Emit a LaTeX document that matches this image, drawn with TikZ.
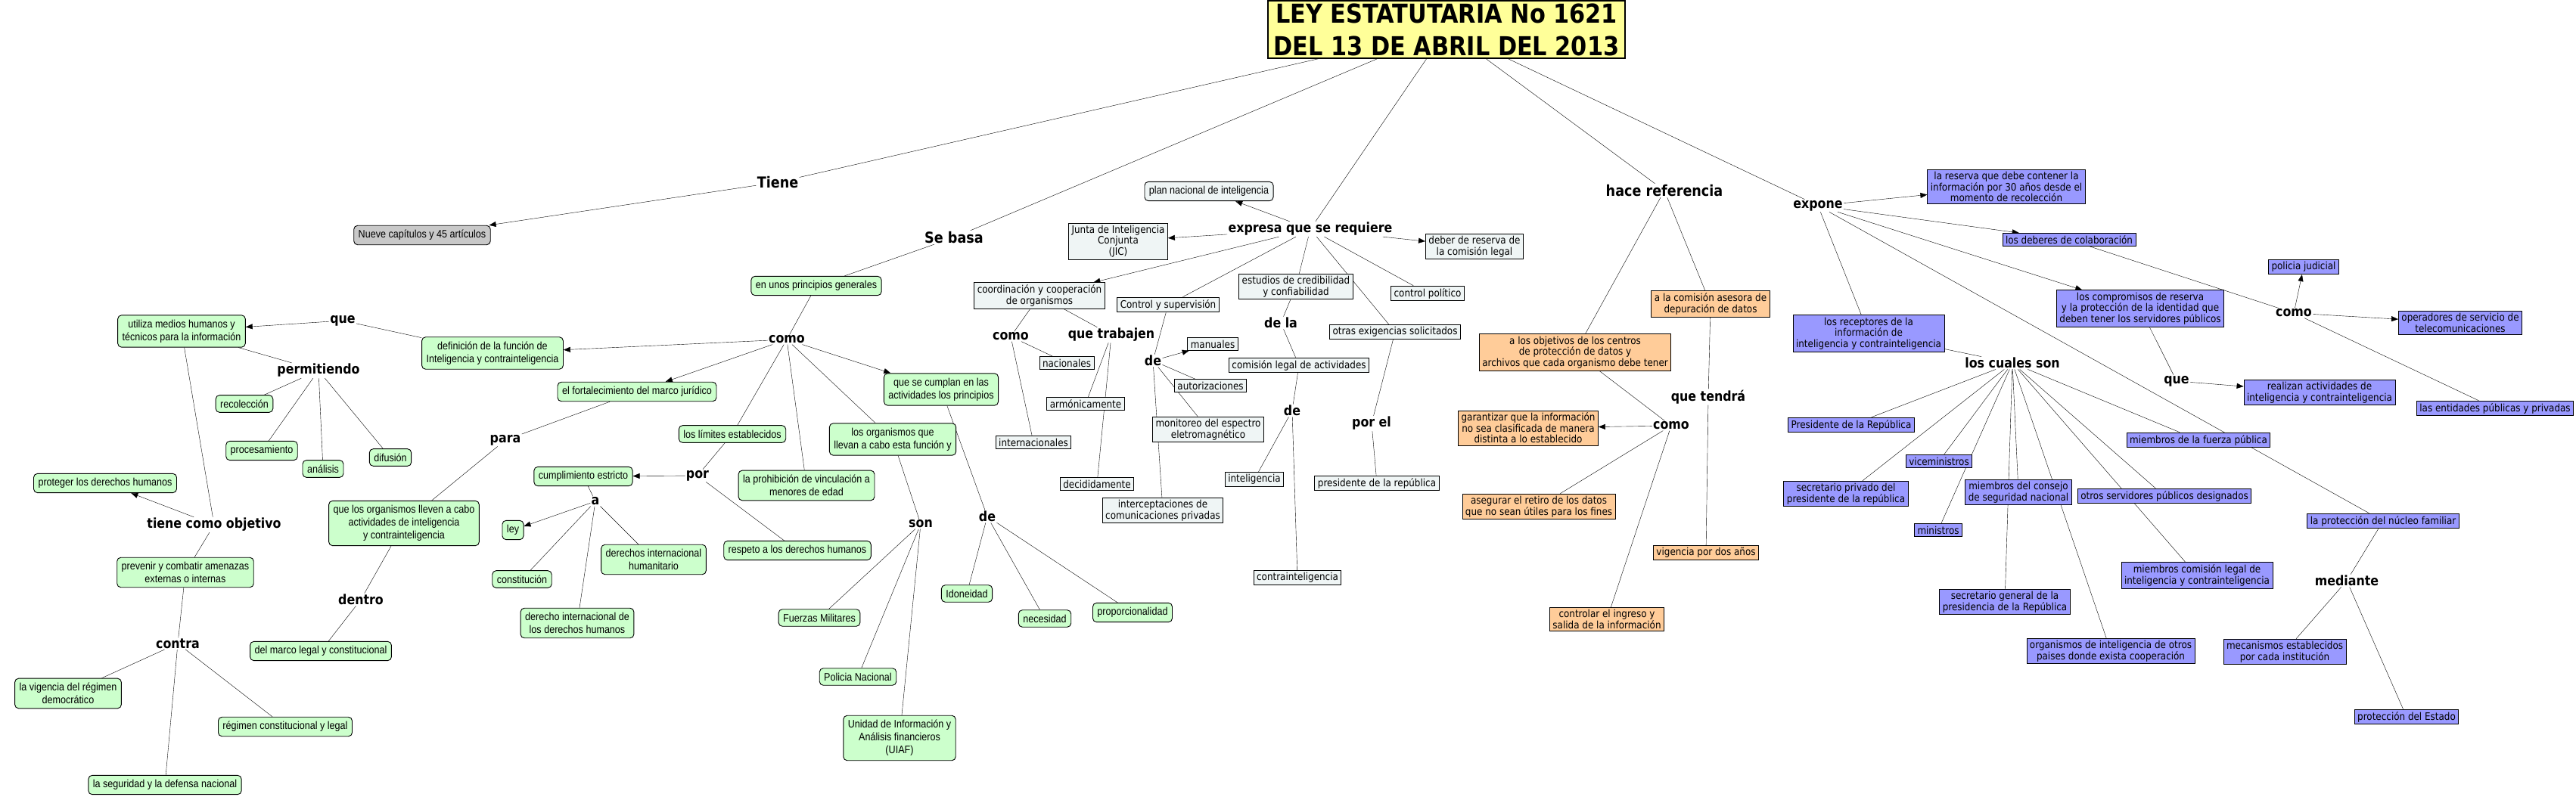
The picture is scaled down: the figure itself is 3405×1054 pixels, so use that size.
\documentclass[tikz,border=0pt]{standalone}
\usepackage{fontspec}
\setmainfont{DejaVu Sans}[FakeStretch=0.88]
\newfontfamily\narrowfont{Liberation Sans}[FakeStretch=0.88]
\usetikzlibrary{arrows.meta}
\definecolor{grnfill}{HTML}{CCFFCC}
\definecolor{gryfill}{HTML}{C8C8C8}
\definecolor{litefill}{HTML}{EFF5F5}
\definecolor{ornfill}{HTML}{FFCC99}
\definecolor{blufill}{HTML}{9999FF}
\definecolor{titlefill}{HTML}{FFFF99}
\pgfdeclarelayer{background}
\pgfsetlayers{background,main}
\newcommand{\cmconcept}{\narrowfont\fontsize{14.3}{17}\selectfont}
\newcommand{\cmbox}{\fontsize{13.6}{14.5}\selectfont}
\newcommand{\cmlink}{\fontsize{18}{20}\selectfont\bfseries}
\newcommand{\cmbiglink}{\fontsize{20}{22}\selectfont\bfseries}
\newcommand{\cmtitle}{\fontsize{34.5}{43}\selectfont\bfseries}
\tikzset{
  grn/.style={draw, rounded corners=5pt, fill=grnfill, font=\cmconcept, align=center, inner xsep=6pt, inner ysep=6pt},
  gry/.style={grn, fill=gryfill},
  literound/.style={grn, fill=litefill},
  lite/.style={draw, fill=litefill, font=\cmbox, align=center, inner xsep=4pt, inner ysep=3pt},
  orn/.style={lite, fill=ornfill},
  blu/.style={lite, fill=blufill},
  lnk/.style={font=\cmlink, inner sep=1pt},
  biglnk/.style={font=\cmbiglink, inner sep=1pt},
  arr/.style={-{Triangle[length=9pt,width=7pt]}}
}
\begin{document}
\begin{tikzpicture}[x=1pt, y=-1pt, line width=0.9pt]
\useasboundingbox (0,0) rectangle (3405,1054);
% title
\node[draw, fill=titlefill, line width=1.2pt, font=\cmtitle, align=center, minimum width=472pt, minimum height=76pt, inner sep=0pt] (ley) at (1912,39) {LEY ESTATUTARIA No 1621\\DEL 13 DE ABRIL DEL 2013};
\node[biglnk] (tiene) at (1028,241) {Tiene};
\node[biglnk] (sebasa) at (1261,314) {Se basa};
\node[lnk] (expresa) at (1732,303) {expresa que se requiere};
\node[biglnk] (haceref) at (2200,252) {hace referencia};
\node[lnk] (expone) at (2403,272) {expone};
\node[gry] (nueve) at (558,311) {Nueve capítulos y 45 artículos};

% principios generales
\node[grn] (principios) at (1079,378) {en unos principios generales};
\node[lnk] (comoA) at (1040,449) {como};
\node[grn] (definicion) at (651,467) {definición de la función de\\Inteligencia y contrainteligencia};
\node[grn] (fortalec) at (842,518) {el fortalecimiento del marco jurídico};
\node[grn] (cumplan) at (1244,515) {que se cumplan en las\\actividades los principios};
\node[grn] (limites) at (968,574) {los límites establecidos};
\node[grn] (prohibicion) at (1066,642) {la prohibición de vinculación a\\menores de edad};
\node[grn] (orgfuncion) at (1180,581) {los organismos que\\llevan a cabo esta función y};
\node[lnk] (queA) at (453,424) {que};
\node[grn] (utiliza) at (240,438) {utiliza medios humanos y\\técnicos para la información};
\node[lnk] (permitiendo) at (421,490) {permitiendo};
\node[grn] (recoleccion) at (323,534) {recolección};
\node[grn] (procesamiento) at (346,596) {procesamiento};
\node[grn] (analisis) at (427,620) {análisis};
\node[grn] (difusion) at (516,605) {difusión};
\node[lnk] (objetivo) at (283,694) {tiene como objetivo};
\node[grn] (proteger) at (139,639) {proteger los derechos humanos};
\node[grn] (prevenir) at (245,757) {prevenir y combatir amenazas\\externas o internas};
\node[lnk] (contra) at (235,851) {contra};
\node[grn] (vigencia) at (90,917) {la vigencia del régimen\\democrático};
\node[grn] (regimen) at (377,961) {régimen constitucional y legal};
\node[grn] (seguridad) at (218,1038) {la seguridad y la defensa nacional};
\node[lnk] (para) at (668,582) {para};
\node[grn] (orgllevan) at (534,692) {que los organismos lleven a cabo\\actividades de inteligencia\\y contrainteligencia};
\node[lnk] (dentro) at (477,793) {dentro};
\node[grn] (marcolegal) at (424,861) {del marco legal y constitucional};
\node[lnk] (porA) at (922,629) {por};
\node[grn] (cumplimiento) at (771,630) {cumplimiento estricto};
\node[lnk] (aA) at (787,663) {a};
\node[grn] (leyn) at (678,701) {ley};
\node[grn] (constitucion) at (690,766) {constitución};
\node[grn] (dih) at (864,740) {derechos internacional\\humanitario};
\node[grn] (didh) at (763,824) {derecho internacional de\\los derechos humanos};
\node[grn] (respeto) at (1054,728) {respeto a los derechos humanos};
\node[lnk] (son) at (1217,693) {son};
\node[grn] (fuerzas) at (1083,817) {Fuerzas Militares};
\node[grn] (policia) at (1134,895) {Policia Nacional};
\node[grn] (uiaf) at (1189,976) {Unidad de Información y\\Análisis financieros\\(UIAF)};
\node[lnk] (deA) at (1305,683) {de};
\node[grn] (idoneidad) at (1278,785) {Idoneidad};
\node[grn] (necesidad) at (1381,818) {necesidad};
\node[grn] (proporcion) at (1497,810) {proporcionalidad};

% expresa que se requiere
\node[literound] (plan) at (1598,253) {plan nacional de inteligencia};
\node[lite] (jic) at (1478,319) {Junta de Inteligencia\\Conjunta\\(JIC)};
\node[lite] (deber) at (1949,326) {deber de reserva de\\la comisión legal};
\node[lite] (coord) at (1374,391) {coordinación y cooperación\\de organismos};
\node[lnk] (comoB) at (1336,445) {como};
\node[lite] (nacionales) at (1410,480) {nacionales};
\node[lite] (internacionales) at (1366,585) {internacionales};
\node[lnk] (trabajen) at (1469,443) {que trabajen};
\node[lite] (armonica) at (1435,534) {armónicamente};
\node[lite] (decidida) at (1450,640) {decididamente};
\node[lite] (control) at (1544,403) {Control y supervisión};
\node[lnk] (deB) at (1524,477) {de};
\node[lite] (manuales) at (1603,455) {manuales};
\node[lite] (autoriz) at (1600,510) {autorizaciones};
\node[lite] (monitoreo) at (1597,568) {monitoreo del espectro\\eletromagnético};
\node[lite] (intercep) at (1537,675) {interceptaciones de\\comunicaciones privadas};
\node[lite] (estudios) at (1713,379) {estudios de credibilidad\\y confiabilidad};
\node[lnk] (dela) at (1693,427) {de la};
\node[lite] (comision) at (1717,483) {comisión legal de actividades};
\node[lnk] (deC) at (1708,543) {de};
\node[lite] (intelig) at (1658,634) {inteligencia};
\node[lite] (contraint) at (1715,764) {contrainteligencia};
\node[lite] (otras) at (1844,439) {otras exigencias solicitados};
\node[lnk] (porel) at (1813,560) {por el};
\node[lite] (presidente) at (1820,639) {presidente de la república};
\node[lite] (politico) at (1887,388) {control político};

% hace referencia
\node[orn] (objetivos) at (2082,466) {a los objetivos de los centros\\de protección de datos y\\archivos que cada organismo debe tener};
\node[orn] (asesora) at (2261,402) {a la comisión asesora de\\depuración de datos};
\node[lnk] (tendra) at (2258,525) {que tendrá};
\node[orn] (vigenciados) at (2255,731) {vigencia por dos años};
\node[lnk] (comoC) at (2209,563) {como};
\node[orn] (garantizar) at (2020,566) {garantizar que la información\\no sea clasificada de manera\\distinta a lo establecido};
\node[orn] (asegurar) at (2034,670) {asegurar el retiro de los datos\\que no sean útiles para los fines};
\node[orn] (controlar) at (2124,819) {controlar el ingreso y\\salida de la información};

% expone
\node[blu] (reserva) at (2652,247) {la reserva que debe contener la\\información por 30 años desde el\\momento de recolección};
\node[blu] (deberes) at (2735,317) {los deberes de colaboración};
\node[blu] (compromisos) at (2829,408) {los compromisos de reserva\\y la protección de la identidad que\\deben tener los servidores públicos};
\node[blu] (receptores) at (2470,441) {los receptores de la\\información de\\inteligencia y contrainteligencia};
\node[lnk] (cuales) at (2660,480) {los cuales son};
\node[lnk] (comoD) at (3032,414) {como};
\node[blu] (judicial) at (3045,353) {policia judicial};
\node[blu] (operadores) at (3252,427) {operadores de servicio de\\telecomunicaciones};
\node[blu] (entidades) at (3298,540) {las entidades públicas y privadas};
\node[lnk] (queB) at (2877,504) {que};
\node[blu] (realizan) at (3066,519) {realizan actividades de\\inteligencia y contrainteligencia};
\node[blu] (presidenteR) at (2447,562) {Presidente de la República};
\node[blu] (vice) at (2563,610) {viceministros};
\node[blu] (ministros) at (2562,701) {ministros};
\node[blu] (privado) at (2440,653) {secretario privado del\\presidente de la república};
\node[blu] (consejo) at (2668,651) {miembros del consejo\\de seguridad nacional};
\node[blu] (otrosserv) at (2861,656) {otros servidores públicos designados};
\node[blu] (fuerza) at (2906,582) {miembros de la fuerza pública};
\node[blu] (comlegal) at (2904,761) {miembros comisión legal de\\inteligencia y contrainteligencia};
\node[blu] (secgeneral) at (2650,796) {secretario general de la\\presidencia de la República};
\node[blu] (orgotros) at (2790,861) {organismos de inteligencia de otros\\paises donde exista cooperación};
\node[blu] (nucleo) at (3150,689) {la protección del núcleo familiar};
\node[lnk] (mediante) at (3102,768) {mediante};
\node[blu] (mecanismos) at (3020,862) {mecanismos establecidos\\por cada institución};
\node[blu] (estado) at (3181,948) {protección del Estado};

% connectors
\begin{pgfonlayer}{background}
\draw (ley) -- (tiene);
\draw[arr] (tiene) -- (nueve);
\draw (ley) -- (sebasa);
\draw (sebasa) -- (principios);
\draw (ley) -- (expresa);
\draw (ley) -- (haceref);
\draw (ley) -- (expone);

\draw (principios) -- (comoA);
\draw[arr] (comoA) -- (definicion);
\draw[arr] (comoA) -- (fortalec);
\draw[arr] (comoA) -- (cumplan);
\draw (comoA) -- (limites);
\draw (comoA) -- (prohibicion);
\draw (comoA) -- (orgfuncion);
\draw (definicion) -- (queA);
\draw[arr] (queA) -- (utiliza);
\draw (utiliza) -- (permitiendo);
\draw (permitiendo) -- (recoleccion);
\draw (permitiendo) -- (procesamiento);
\draw (permitiendo) -- (analisis);
\draw (permitiendo) -- (difusion);
\draw (utiliza) -- (objetivo);
\draw[arr] (objetivo) -- (proteger);
\draw (objetivo) -- (prevenir);
\draw (prevenir) -- (contra);
\draw (contra) -- (vigencia);
\draw (contra) -- (regimen);
\draw (contra) -- (seguridad);
\draw (fortalec) -- (para);
\draw (para) -- (orgllevan);
\draw (orgllevan) -- (dentro);
\draw (dentro) -- (marcolegal);
\draw (limites) -- (porA);
\draw[arr] (porA) -- (cumplimiento);
\draw (porA) -- (respeto);
\draw (cumplimiento) -- (aA);
\draw[arr] (aA) -- (leyn);
\draw (aA) -- (constitucion);
\draw (aA) -- (didh);
\draw (aA) -- (dih);
\draw (orgfuncion) -- (son);
\draw (son) -- (fuerzas);
\draw (son) -- (policia);
\draw (son) -- (uiaf);
\draw (cumplan) -- (deA);
\draw (deA) -- (idoneidad);
\draw (deA) -- (necesidad);
\draw (deA) -- (proporcion);

\draw[arr] (expresa) -- (plan);
\draw[arr] (expresa) -- (jic);
\draw[arr] (expresa) -- (deber);
\draw[arr] (expresa) -- (coord);
\draw (expresa) -- (control);
\draw (expresa) -- (estudios);
\draw (expresa) -- (otras);
\draw (expresa) -- (politico);
\draw (coord) -- (comoB);
\draw (comoB) -- (nacionales);
\draw (comoB) -- (internacionales);
\draw (coord) -- (trabajen);
\draw (trabajen) -- (armonica);
\draw (trabajen) -- (decidida);
\draw (control) -- (deB);
\draw[arr] (deB) -- (manuales);
\draw (deB) -- (autoriz);
\draw (deB) -- (monitoreo);
\draw (deB) -- (intercep);
\draw (estudios) -- (dela);
\draw (dela) -- (comision);
\draw (comision) -- (deC);
\draw (deC) -- (intelig);
\draw (deC) -- (contraint);
\draw (otras) -- (porel);
\draw (porel) -- (presidente);

\draw (haceref) -- (objetivos);
\draw (haceref) -- (asesora);
\draw (asesora) -- (tendra);
\draw (tendra) -- (vigenciados);
\draw (objetivos) -- (comoC);
\draw[arr] (comoC) -- (garantizar);
\draw (comoC) -- (asegurar);
\draw (comoC) -- (controlar);

\draw[arr] (expone) -- (reserva);
\draw[arr] (expone) -- (deberes);
\draw[arr] (expone) -- (compromisos);
\draw (expone) -- (receptores);
\draw (expone) -- (nucleo);
\draw (deberes) -- (comoD);
\draw[arr] (comoD) -- (judicial);
\draw[arr] (comoD) -- (operadores);
\draw (comoD) -- (entidades);
\draw (compromisos) -- (queB);
\draw[arr] (queB) -- (realizan);
\draw (receptores) -- (cuales);
\draw (cuales) -- (presidenteR);
\draw (cuales) -- (privado);
\draw (cuales) -- (vice);
\draw (cuales) -- (ministros);
\draw (cuales) -- (consejo);
\draw (cuales) -- (secgeneral);
\draw (cuales) -- (orgotros);
\draw (cuales) -- (otrosserv);
\draw (cuales) -- (comlegal);
\draw (cuales) -- (fuerza);
\draw (nucleo) -- (mediante);
\draw (mediante) -- (mecanismos);
\draw (mediante) -- (estado);
\end{pgfonlayer}
\end{tikzpicture}
\end{document}
